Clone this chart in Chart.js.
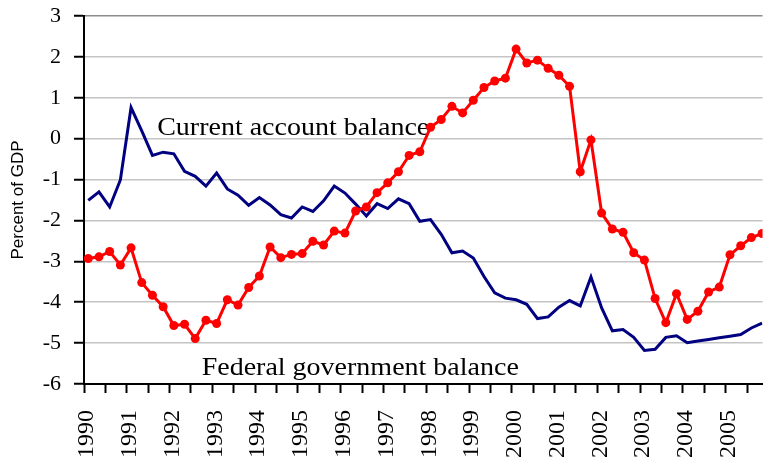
<!DOCTYPE html>
<html>
<head>
<meta charset="utf-8">
<title>Federal government and current account balance</title>
<script src="https://cdn.jsdelivr.net/npm/chart.js@4.4.1/dist/chart.umd.min.js"></script>
<style>
  html, body { margin: 0; padding: 0; background: #fff; }
  #wrap { width: 767px; height: 458px; }
</style>
</head>
<body>
<div id="wrap"><canvas id="chart"></canvas></div>
<script>
// Quarterly figures, 1990Q1 to 2005Q4, percent of GDP
const yearLabels = ['1990', '1991', '1992', '1993', '1994', '1995', '1996', '1997',
                    '1998', '1999', '2000', '2001', '2002', '2003', '2004', '2005'];

const federalBalance = [
  -2.93, -2.89, -2.76, -3.09, -2.67, -3.52, -3.83, -4.11,
  -4.57, -4.54, -4.89, -4.44, -4.52, -3.94, -4.07, -3.64,
  -3.36, -2.65, -2.91, -2.83, -2.81, -2.51, -2.60, -2.26,
  -2.31, -1.77, -1.67, -1.32, -1.08, -0.81, -0.41, -0.32,
   0.28,  0.47,  0.79,  0.63,  0.94,  1.25,  1.41,  1.48,
   2.19,  1.85,  1.92,  1.72,  1.55,  1.28, -0.81, -0.03,
  -1.82, -2.21, -2.29, -2.79, -2.97, -3.91, -4.50, -3.79,
  -4.42, -4.22, -3.75, -3.63, -2.84, -2.62, -2.42, -2.32
];

const currentAccount = [
  -1.51, -1.30, -1.67, -1.01,  0.76,  0.19, -0.41, -0.33,
  -0.37, -0.80, -0.92, -1.16, -0.84, -1.23, -1.38, -1.63,
  -1.44, -1.62, -1.86, -1.94, -1.67, -1.78, -1.52, -1.16,
  -1.33, -1.60, -1.89, -1.59, -1.71, -1.47, -1.59, -2.02,
  -1.98, -2.34, -2.79, -2.75, -2.92, -3.37, -3.77, -3.90,
  -3.94, -4.05, -4.40, -4.36, -4.12, -3.96, -4.09, -3.38,
  -4.14, -4.70, -4.67, -4.86, -5.18, -5.15, -4.86, -4.82,
  -4.99, -4.95, -4.91, -4.87, -4.83, -4.79, -4.63, -4.51
];

const noteLabels = ['Current account balance', 'Federal government balance'];

const serif = "'Liberation Serif', 'Times New Roman', serif";

// place each quarter inside its year on the x axis
function toPoints(values) {
  return values.map((v, i) => ({ x: 1990.1 + i / 4, y: v }));
}

// text notes written onto the plot area
const notePlugin = {
  id: 'notes',
  beforeDatasetsDraw(chart) {
    const { ctx, scales: { x, y } } = chart;
    const spots = [[1991.71, 0.08], [1992.75, -5.79]];
    ctx.save();
    ctx.font = '25px ' + serif;
    ctx.fillStyle = '#000';
    ctx.textBaseline = 'alphabetic';
    noteLabels.forEach((text, i) => {
      ctx.save();
      ctx.translate(x.getPixelForValue(spots[i][0]), y.getPixelForValue(spots[i][1]));
      ctx.scale(1.12, 1);
      ctx.fillText(text, 0, 0);
      ctx.restore();
    });
    ctx.restore();
  }
};

new Chart(document.getElementById('chart'), {
  type: 'line',
  data: {
    datasets: [
      {
        label: 'Federal government balance',
        data: toPoints(federalBalance),
        borderColor: '#ff0000',
        backgroundColor: '#ff0000',
        borderWidth: 3,
        pointRadius: 4.5,
        pointBorderWidth: 0,
        pointBackgroundColor: '#ff0000'
      },
      {
        label: 'Current account balance',
        data: toPoints(currentAccount),
        borderColor: '#000080',
        borderWidth: 3,
        pointRadius: 0
      }
    ]
  },
  options: {
    responsive: true,
    maintainAspectRatio: false,
    animation: false,
    layout: { padding: { top: 16, right: 0, bottom: 0, left: 0 } },
    plugins: {
      legend: { display: false },
      tooltip: { enabled: false }
    },
    scales: {
      x: {
        type: 'linear',
        min: 1990,
        max: 2005.86,
        border: { color: '#000', width: 2 },
        grid: { drawOnChartArea: false, tickLength: 9, tickColor: '#000', tickWidth: 2 },
        ticks: {
          stepSize: 0.5,
          includeBounds: false,
          autoSkip: false,
          minRotation: 90,
          maxRotation: 90,
          padding: 17,
          labelOffset: 3,
          color: '#000',
          font: { family: serif, size: 24 },
          callback: v => Number.isInteger(v) ? yearLabels[v - 1990] : ''
        },
        afterFit: s => { s.height = 74; s.paddingLeft = 0; s.paddingRight = 0; }
      },
      y: {
        min: -6,
        max: 3,
        border: { color: '#000', width: 2 },
        grid: {
          color: c => c.tick && c.tick.value === 3 ? '#8c8c8c' : '#c4c4c4',
          lineWidth: 1.5,
          tickLength: 10,
          tickColor: '#000',
          tickWidth: 2
        },
        ticks: {
          stepSize: 1,
          padding: 13,
          color: '#000',
          font: { family: serif, size: 22 }
        },
        title: {
          display: true,
          text: 'Percent of GDP',
          color: '#000',
          font: { family: "'Liberation Sans', Arial, sans-serif", size: 17 },
          padding: { top: 8, bottom: 0 }
        },
        afterFit: s => { s.width = 84; s.paddingTop = 0; s.paddingBottom = 0; }
      }
    }
  },
  plugins: [notePlugin]
});
</script>
</body>
</html>
